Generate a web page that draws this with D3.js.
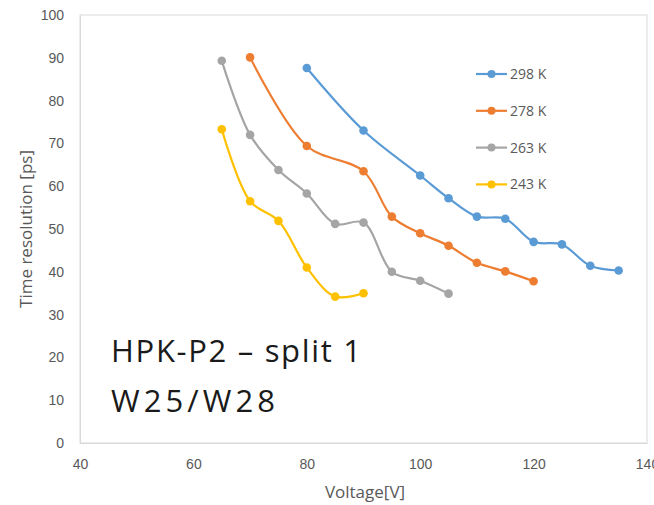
<!DOCTYPE html>
<html>
<head>
<meta charset="utf-8">
<script src="https://cdn.jsdelivr.net/npm/d3@7"></script>
<style>
  body { margin: 0; background: #fff; }
  svg { display: block; font-family: "Open Sans", "Noto Sans", sans-serif; }
</style>
</head>
<body>
<svg id="chart" width="654" height="505"></svg>
<script>
// values
const seriesNames = ['298 K', '278 K', '263 K', '243 K'];
const colors = ['#5B9BD5', '#ED7D31', '#A5A5A5', '#FFC000'];
const volts298 = [80, 90, 100, 105, 110, 115, 120, 125, 130, 135];
const res298 = [87.6, 73.0, 62.5, 57.2, 52.9, 52.4, 47.0, 46.4, 41.4, 40.3];
const volts278 = [70, 80, 90, 95, 100, 105, 110, 115, 120];
const res278 = [90.1, 69.4, 63.5, 52.9, 49.0, 46.1, 42.1, 40.1, 37.8];
const volts263 = [65, 70, 75, 80, 85, 90, 95, 100, 105];
const res263 = [89.3, 72.0, 63.8, 58.3, 51.2, 51.5, 40.0, 37.9, 34.9];
const volts243 = [65, 70, 75, 80, 85, 90];
const res243 = [73.3, 56.5, 51.9, 41.0, 34.2, 35.0];
const xTicks = [40, 60, 80, 100, 120, 140];
const yTicks = [0, 10, 20, 30, 40, 50, 60, 70, 80, 90, 100];

const series = [
  { name: seriesNames[0], color: colors[0], pts: volts298.map((v, i) => [v, res298[i]]) },
  { name: seriesNames[1], color: colors[1], pts: volts278.map((v, i) => [v, res278[i]]) },
  { name: seriesNames[2], color: colors[2], pts: volts263.map((v, i) => [v, res263[i]]) },
  { name: seriesNames[3], color: colors[3], pts: volts243.map((v, i) => [v, res243[i]]) },
];

const svg = d3.select('#chart');
const margin = { left: 80, top: 15, right: 7, bottom: 62 };
const width = 654 - margin.left - margin.right;
const height = 505 - margin.top - margin.bottom;

const x = d3.scaleLinear().domain([40, 140]).range([0, width]);
const y = d3.scaleLinear().domain([0, 100]).range([height, 0]);

const g = svg.append('g').attr('transform', `translate(${margin.left},${margin.top})`);

// plot frame
g.append('rect').attr('x', 0).attr('y', 0).attr('width', width).attr('height', height)
  .attr('fill', 'none').attr('stroke', '#D9D9D9').attr('stroke-width', 1);

const xAxis = g.append('g').attr('transform', `translate(0,${height})`)
  .call(d3.axisBottom(x).tickValues(xTicks).tickSize(0).tickPadding(16));
xAxis.select('.domain').attr('stroke', '#D9D9D9');
xAxis.selectAll('text').attr('fill', '#595959').style('font-size', '14px');

const yAxis = g.append('g')
  .call(d3.axisLeft(y).tickValues(yTicks).tickSize(0).tickPadding(16));
yAxis.select('.domain').attr('stroke', '#D9D9D9');
yAxis.selectAll('text').attr('fill', '#595959').style('font-size', '14px');

// axis titles
svg.append('text').attr('x', 365).attr('y', 498).attr('text-anchor', 'middle')
  .attr('fill', '#595959').style('font-size', '17px').text('Voltage[V]');
svg.append('text').attr('transform', 'translate(32,229) rotate(-90)').attr('text-anchor', 'middle')
  .attr('fill', '#595959').style('font-size', '17px').text('Time resolution [ps]');

const line = d3.line().x(d => x(d[0])).y(d => y(d[1])).curve(d3.curveCatmullRom.alpha(0.5));

series.forEach(s => {
  g.append('path').datum(s.pts).attr('d', line)
    .attr('fill', 'none').attr('stroke', s.color).attr('stroke-width', 2.2);
  g.selectAll(null).data(s.pts).enter().append('circle')
    .attr('cx', d => x(d[0])).attr('cy', d => y(d[1])).attr('r', 4.3)
    .attr('fill', s.color);
});

// legend
const legend = svg.append('g').attr('transform', 'translate(476,74)');
series.forEach((s, i) => {
  const row = legend.append('g').attr('transform', `translate(0,${i * 36.8})`);
  row.append('line').attr('x1', 0).attr('x2', 31).attr('y1', 0).attr('y2', 0)
    .attr('stroke', s.color).attr('stroke-width', 2.2);
  row.append('circle').attr('cx', 15.5).attr('cy', 0).attr('r', 4).attr('fill', s.color);
  row.append('text').attr('x', 34).attr('y', 5).attr('fill', '#595959')
    .style('font-size', '14px').text(s.name);
});

// annotation
const note = svg.append('g').attr('fill', '#1a1a1a').style('font-size', '31px');
note.append('text').attr('x', 111).attr('y', 362)
  .attr('textLength', 250).attr('lengthAdjust', 'spacing').text('HPK-P2 – split 1');
note.append('text').attr('x', 111).attr('y', 412)
  .attr('textLength', 164).attr('lengthAdjust', 'spacing').text('W25/W28');
</script>
</body>
</html>
